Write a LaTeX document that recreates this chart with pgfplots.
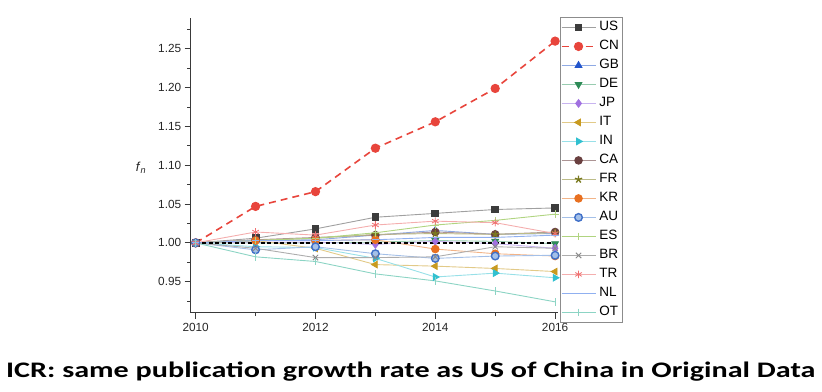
\documentclass[border=0pt]{standalone}
\usepackage{pgfplots}
\usepackage{pgfplotstable}
\pgfplotsset{compat=1.18}
\usepackage{fontspec}
\setmainfont{Liberation Sans}
\newfontfamily\titlefont{Carlito}
\definecolor{cUSm}{HTML}{3C3C3C}\definecolor{cUSl}{HTML}{A0A0A0}
\definecolor{cCN}{HTML}{E8453C}
\definecolor{cGBm}{HTML}{2255CC}\definecolor{cGBl}{HTML}{8FAAE4}
\definecolor{cDEm}{HTML}{2E8B57}\definecolor{cDEl}{HTML}{98CCB0}
\definecolor{cJPm}{HTML}{A070E0}\definecolor{cJPl}{HTML}{C8B4F0}
\definecolor{cITm}{HTML}{C89A20}\definecolor{cITl}{HTML}{E2CA88}
\definecolor{cINm}{HTML}{30C0D0}\definecolor{cINl}{HTML}{98E0E8}
\definecolor{cCAm}{HTML}{6A4040}\definecolor{cCAl}{HTML}{AC9494}
\definecolor{cFRm}{HTML}{7A7A20}\definecolor{cFRl}{HTML}{BCBC88}
\definecolor{cKRm}{HTML}{E87020}\definecolor{cKRl}{HTML}{F2B488}
\definecolor{cAUm}{HTML}{4070C8}\definecolor{cAUl}{HTML}{A4C0E8}
\definecolor{cES}{HTML}{B0D480}
\definecolor{cBR}{HTML}{8A8A8A}
\definecolor{cTRm}{HTML}{F07070}\definecolor{cTRl}{HTML}{F4AEAE}
\definecolor{cNL}{HTML}{90B0F0}
\definecolor{cOT}{HTML}{8CD4C4}
\definecolor{axc}{HTML}{3A3A3A}
\pgfplotstableread{
year US CN GB DE JP IT IN CA FR KR AU ES BR TR NL OT
2010 1.000 1.000 1.000 1.000 1.000 1.000 1.000 1.000 1.000 1.000 1.000 1.000 1.000 1.000 1.000 1.000
2011 1.006 1.047 1.003 1.000 1.001 1.003 0.995 1.004 1.003 1.003 0.991 1.003 0.993 1.014 1.003 0.982
2012 1.018 1.066 1.004 1.000 1.001 0.993 0.994 1.007 1.006 1.003 0.995 1.006 0.981 1.010 1.003 0.976
2013 1.033 1.122 1.010 1.001 0.998 0.972 0.980 1.010 1.011 1.004 0.986 1.013 0.981 1.023 1.004 0.960
2014 1.038 1.156 1.016 1.003 1.002 0.970 0.956 1.014 1.012 0.992 0.980 1.023 0.982 1.028 1.007 0.951
2015 1.043 1.199 1.011 1.002 0.999 0.967 0.961 1.011 1.011 0.986 0.983 1.029 0.995 1.026 1.007 0.938
2016 1.045 1.260 1.012 0.999 0.993 0.963 0.955 1.014 1.013 0.983 0.984 1.037 0.993 1.012 1.010 0.924
}\datatable
\begin{document}
\begin{tikzpicture}
\useasboundingbox (0,0) rectangle (822pt,391pt);
\begin{axis}[
  at={(190.7pt,78.3pt)}, anchor=south west,
  scale only axis, width=367.4pt, height=294.4pt,
  xmin=2009.917, xmax=2016.05, ymin=0.91, ymax=1.2894,
  axis x line*=bottom, axis y line*=left,
  axis line style={-, axc, line width=1.2pt},
  xtick={2010,2012,2014,2016}, minor xtick={2011,2013,2015},
  ytick={0.95,1.00,...,1.26}, minor ytick={0.925,0.975,...,1.28},
  tick align=outside, major tick length=6pt, minor tick length=3.5pt,
  tick style={axc, line width=1pt},
  x tick label style={/pgf/number format/1000 sep={}},
  y tick label style={/pgf/number format/fixed, /pgf/number format/fixed zerofill, /pgf/number format/precision=2},
  /pgf/number format/assume math mode=true,
  ticklabel style={font=\fontsize{11.8}{12}\selectfont, text=black!85},
  xticklabel style={yshift=-1pt},
  ylabel={\textit{f}\textsubscript{\textit{n}}},
  every axis y label/.style={at={(axis description cs:0,0.502)}, anchor=east, xshift=-41pt, yshift=-3pt, font=\fontsize{13}{13}\selectfont, text=black!85},
  clip=false,
  legend style={at={(1.005,1.004)}, anchor=north west, draw=black!45, line width=0.6pt,
    font=\fontsize{13.5}{13.5}\selectfont, inner xsep=0.5pt, inner ysep=0.5pt,
    nodes={text height=10pt, text depth=3pt, inner sep=3pt}, row sep=0pt},
  legend cell align=left,
  legend image code/.code={\draw[mark repeat=2,mark phase=2] plot coordinates {(0pt,0pt)(17pt,0pt)(34pt,0pt)};},
  every axis plot/.append style={line width=0.9pt, mark size=3.8pt},
]
\addplot[cUSl, mark=square*, mark size=3.4pt, mark options={fill=cUSm, draw=cUSm}] table[x=year,y=US] {\datatable};
\addlegendentry{US}
\addplot[cCN, line width=1.6pt, dash pattern=on 7pt off 5pt, mark=*, mark options={solid, fill=cCN, draw=cCN}] table[x=year,y=CN] {\datatable};
\addlegendentry{CN}
\addplot[cGBl, mark=triangle*, mark options={fill=cGBm, draw=cGBm}] table[x=year,y=GB] {\datatable};
\addlegendentry{GB}
\addplot[cDEl, mark=triangle*, mark options={rotate=180, fill=cDEm, draw=cDEm}] table[x=year,y=DE] {\datatable};
\addlegendentry{DE}
\addplot[cJPl, mark=diamond*, mark options={fill=cJPm, draw=cJPm}] table[x=year,y=JP] {\datatable};
\addlegendentry{JP}
\addplot[cITl, mark=triangle*, mark options={rotate=90, fill=cITm, draw=cITm}] table[x=year,y=IT] {\datatable};
\addlegendentry{IT}
\addplot[cINl, mark=triangle*, mark options={rotate=-90, fill=cINm, draw=cINm}] table[x=year,y=IN] {\datatable};
\addlegendentry{IN}
\addplot[cCAl, mark=*, mark options={fill=cCAm, draw=cCAm}] table[x=year,y=CA] {\datatable};
\addlegendentry{CA}
\addplot[cFRl, mark=star, mark options={draw=cFRm, line width=1.4pt}] table[x=year,y=FR] {\datatable};
\addlegendentry{FR}
\addplot[cKRl, mark=*, mark options={fill=cKRm, draw=cKRm}] table[x=year,y=KR] {\datatable};
\addlegendentry{KR}
\addplot[cAUl, mark=*, mark options={fill=cAUl, draw=cAUm, line width=1.4pt}] table[x=year,y=AU] {\datatable};
\addlegendentry{AU}
\addplot[cES, mark=+, mark options={draw=cES}] table[x=year,y=ES] {\datatable};
\addlegendentry{ES}
\addplot[cBR!70, mark=x, mark options={draw=cBR, line width=0.9pt}] table[x=year,y=BR] {\datatable};
\addlegendentry{BR}
\addplot[cTRl, mark=asterisk, mark options={draw=cTRm, line width=0.8pt}] table[x=year,y=TR] {\datatable};
\addlegendentry{TR}
\addplot[cNL, mark=-, mark options={draw=cNL}] table[x=year,y=NL] {\datatable};
\addlegendentry{NL}
\addplot[cOT, mark=|, mark options={draw=cOT}] table[x=year,y=OT] {\datatable};
\addlegendentry{OT}
\addplot[black, line width=1.6pt, dash pattern=on 4pt off 2.5pt, forget plot] coordinates {(2010,1.0)(2016,1.0)};
\end{axis}
\node[anchor=base west, inner sep=0pt] at (6pt,13.7pt) {\resizebox{809pt}{15.6pt}{\titlefont\bfseries ICR: same publication growth rate as US of China in Original Data}};
\end{tikzpicture}
\end{document}
